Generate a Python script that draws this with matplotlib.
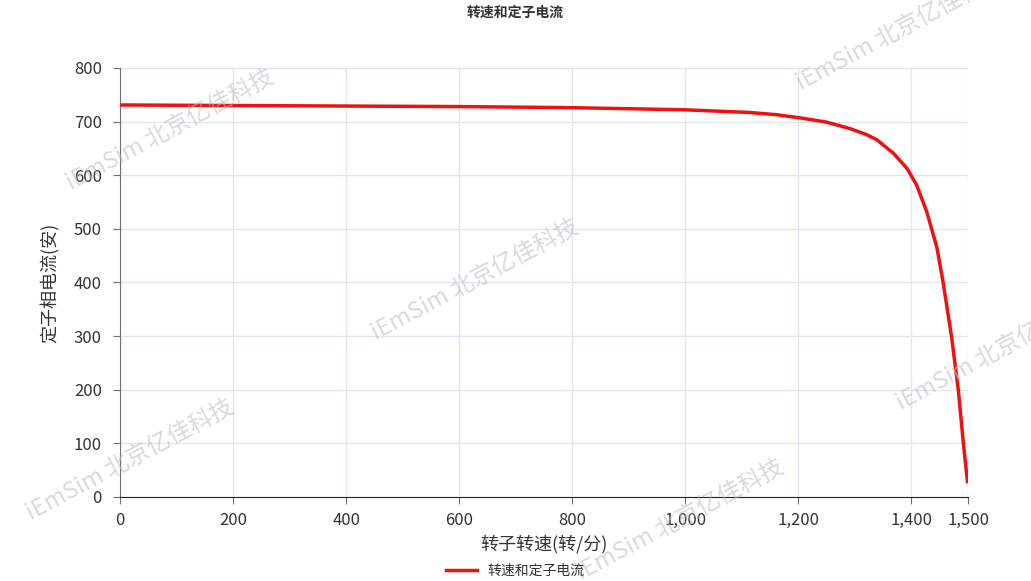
import matplotlib
matplotlib.use('Agg')
from matplotlib import pyplot as plt
from matplotlib.ticker import FuncFormatter

plt.rcParams['font.family'] = ['Noto Sans CJK SC', 'DejaVu Sans']

# speed (rpm) and stator phase current (A)
speed = [0, 200, 400, 600, 800, 1000, 1114, 1160, 1203, 1250, 1291, 1320, 1339,
         1368, 1392, 1409, 1427, 1445, 1456, 1471, 1483, 1492, 1499]
current = [731, 730, 729, 728, 726, 722, 717, 713, 707, 699, 687, 676, 666,
           641, 613, 582, 532, 465, 400, 298, 198, 98, 29]

x_ticks = [0, 200, 400, 600, 800, 1000, 1200, 1400, 1500]
y_ticks = [0, 100, 200, 300, 400, 500, 600, 700, 800]

title = '转速和定子电流'
series_name = '转速和定子电流'
watermark = 'iEmSim 北京亿佳科技'

fig = plt.figure(figsize=[10.31, 5.81], dpi=100)
ax = fig.add_axes([0.1164, 0.1446, 0.8225, 0.7384])

ax.plot(speed, current, color='#ee1111', lw=2.5, label=series_name, zorder=3,
        solid_joinstyle='round')

ax.set_xlim(0, 1500)
ax.set_ylim(0, 800)
ax.set_xticks(x_ticks)
ax.set_yticks(y_ticks)
ax.xaxis.set_major_formatter(FuncFormatter(lambda v, p: f'{int(v):,}'))
ax.grid(True, color='#e0e6f1', lw=1)
ax.set_axisbelow(True)
for s in ['top', 'right']:
    ax.spines[s].set_visible(False)
ax.spines['left'].set_color('#6e7079')
ax.spines['bottom'].set_color('#222222')
ax.tick_params(axis='both', labelsize=12, colors='#333333', length=5)
ax.tick_params(axis='x', color='#6e7079', pad=6)
ax.tick_params(axis='y', color='#6e7079', pad=8)

ax.set_xlabel('转子转速(转/分)', fontsize=13, color='#333333', labelpad=4)
ax.set_ylabel('定子相电流(安)', fontsize=13, color='#333333', labelpad=10)

fig.text(0.5, 0.978, title, ha='center', va='center', fontsize=10,
         fontweight='bold', color='#333333')
fig.legend(loc='center', bbox_to_anchor=(0.5, 0.017), frameon=False,
           fontsize=10, handlelength=2.2, labelcolor='#333333')

# watermarks
for wx, wy in [(170, 130), (475, 280), (130, 460), (680, 520), (900, 30), (1000, 350)]:
    fig.text(wx / 1031, 1 - wy / 581, watermark, rotation=28, ha='center', va='center',
             fontsize=17, color='#bbbbbb', alpha=0.55, rotation_mode='anchor')

fig.savefig('out.png', dpi=100)
plt.close()
